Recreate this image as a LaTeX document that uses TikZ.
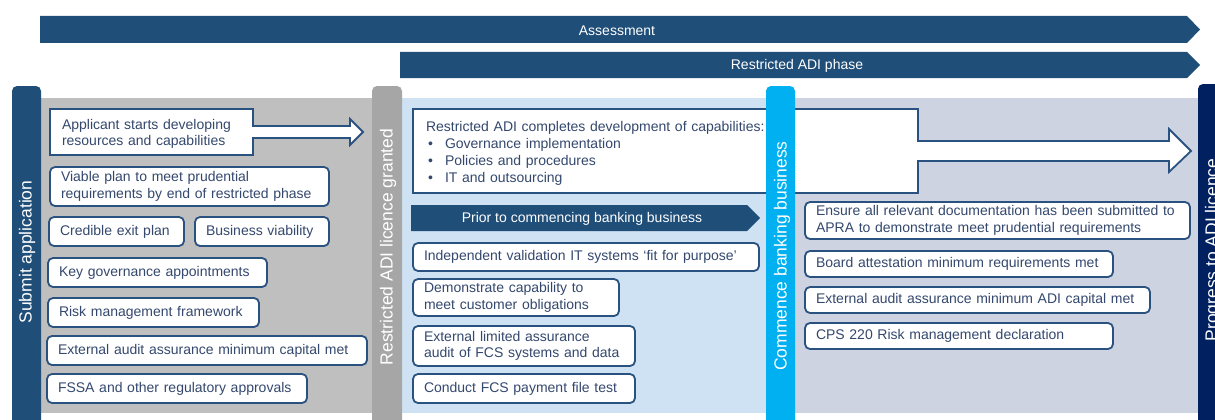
\documentclass[tikz,border=0pt]{standalone}
\usepackage{fontspec}
\setmainfont{Liberation Sans}
\usepackage{tikz}

\definecolor{barblue}{HTML}{1F4E79}
\definecolor{greyfill}{HTML}{BFBFBF}
\definecolor{greytab}{HTML}{A6A6A6}
\definecolor{paleblue}{HTML}{CFE2F3}
\definecolor{cyantab}{HTML}{00B0F0}
\definecolor{slatefill}{HTML}{CDD3E0}
\definecolor{navytab}{HTML}{002060}
\definecolor{edgeblue}{HTML}{2A5280}
\definecolor{inkblue}{HTML}{34486E}

\tikzset{
  itm/.style={draw=edgeblue, line width=1.8pt, fill=white, rounded corners=5pt,
    anchor=north west, outer sep=0pt, inner xsep=11pt, inner ysep=2pt,
    align=left, text=inkblue, font=\fontsize{14}{16.5}\selectfont},
  plain/.style={anchor=north west, outer sep=0pt, inner xsep=12pt, inner ysep=0pt,
    align=left, text=inkblue, font=\fontsize{14}{16.5}\selectfont},
  outl/.style={draw=edgeblue, line width=1.8pt, fill=white},
  bartext/.style={text=white, font=\fontsize{14}{16}\selectfont},
  tabtext/.style={text=white, rotate=90, font=\fontsize{17.5}{20}\selectfont}
}

\begin{document}
\begin{tikzpicture}[x=1pt,y=-1pt]
\useasboundingbox (0,0) rectangle (1215,420);
\clip (0,0) rectangle (1215,420);

% phase bars
\fill[barblue] (40,16) -- (1187,16) -- (1200,29.5) -- (1187,43) -- (40,43) -- cycle;
\node[bartext] (assess) at (617,31) {Assessment};
\fill[barblue] (400,52) -- (1187,52) -- (1200,65) -- (1187,78) -- (400,78) -- cycle;
\node[bartext] (rphase) at (797,66) {Restricted ADI phase};

% panels
\fill[greyfill] (41,98) rectangle (372,413);
\fill[paleblue] (402,98) rectangle (766,413);
\fill[slatefill] (795,98) rectangle (1198,413);

% application stage
\draw[outl] (50,109) -- (253,109) -- (253,126) -- (350,126) -- (350,119) -- (363,132)
  -- (350,145) -- (350,138) -- (253,138) -- (253,155) -- (50,155) -- cycle;
\node[plain, text width=190, minimum height=46] (develop) at (50,111)
  {Applicant starts developing\\resources and capabilities};
\node[itm, text width=257, minimum height=39] (viable) at (50,167)
  {Viable plan to meet prudential\\requirements by end of restricted phase};
\node[itm, text width=113, minimum height=29] (exitplan) at (49,217) {Credible exit plan};
\node[itm, text width=112, minimum height=29] (viability) at (195,217) {Business viability};
\node[itm, text width=197, minimum height=29] (keygov) at (48,258) {Key governance appointments};
\node[itm, text width=189, minimum height=29] (riskfw) at (48,298) {Risk management framework};
\node[itm, text width=298, minimum height=29] (extaudit) at (47,336) {External audit assurance minimum capital met};
\node[itm, text width=238, minimum height=29] (fssa) at (47,374) {FSSA and other regulatory approvals};

% restricted stage
\draw[outl] (413,109) -- (918,109) -- (918,141) -- (1169,141) -- (1169,129) -- (1191,151)
  -- (1169,172) -- (1169,161) -- (918,161) -- (918,193) -- (413,193) -- cycle;
\node[plain, inner xsep=13pt, text width=420, minimum height=84,
  font=\fontsize{14}{17}\selectfont] (complete) at (413,111)
  {Restricted ADI completes development of capabilities:\\
   \hspace*{2pt}\makebox[17pt][l]{\textbullet}Governance implementation\\
   \hspace*{2pt}\makebox[17pt][l]{\textbullet}Policies and procedures\\
   \hspace*{2pt}\makebox[17pt][l]{\textbullet}IT and outsourcing};
\fill[barblue] (411,205) -- (747,205) -- (760,218) -- (747,231) -- (411,231) -- cycle;
\node[bartext] (prior) at (582,219) {Prior to commencing banking business};
\node[itm, text width=324, minimum height=28] (indep) at (413,243)
  {Independent validation IT systems ‘fit for purpose’};
\node[itm, text width=184, minimum height=37] (demo) at (413,279)
  {Demonstrate capability to\\meet customer obligations};
\node[itm, text width=200, minimum height=40] (extlim) at (413,326)
  {External limited assurance\\audit of FCS systems and data};
\node[itm, text width=200, minimum height=29] (fcstest) at (413,374)
  {Conduct FCS payment file test};

% banking stage
\node[itm, text width=363, minimum height=37] (ensure) at (805,202)
  {Ensure all relevant documentation has been submitted to\\APRA to demonstrate meet prudential requirements};
\node[itm, text width=286, minimum height=26] (board) at (805,251)
  {Board attestation minimum requirements met};
\node[itm, text width=323, minimum height=26] (extadi) at (805,287)
  {External audit assurance minimum ADI capital met};
\node[itm, text width=286, minimum height=26] (cps) at (805,323)
  {CPS 220 Risk management declaration};

% milestone tabs
\fill[barblue, rounded corners=5pt] (12,86) rectangle (41,440);
\node[tabtext] (submit) at (27,252) {Submit application};
\fill[greytab, rounded corners=5pt] (372,86) rectangle (402,440);
\node[tabtext] (granted) at (388,247) {Restricted ADI licence granted};
\fill[cyantab, rounded corners=5pt] (766,86) rectangle (795,440);
\node[tabtext] (commence) at (782,256) {Commence banking business};
\fill[navytab, rounded corners=5pt] (1198,84) rectangle (1240,440);
\node[tabtext] (progress) at (1213,250) {Progress to ADI licence};

\end{tikzpicture}
\end{document}
